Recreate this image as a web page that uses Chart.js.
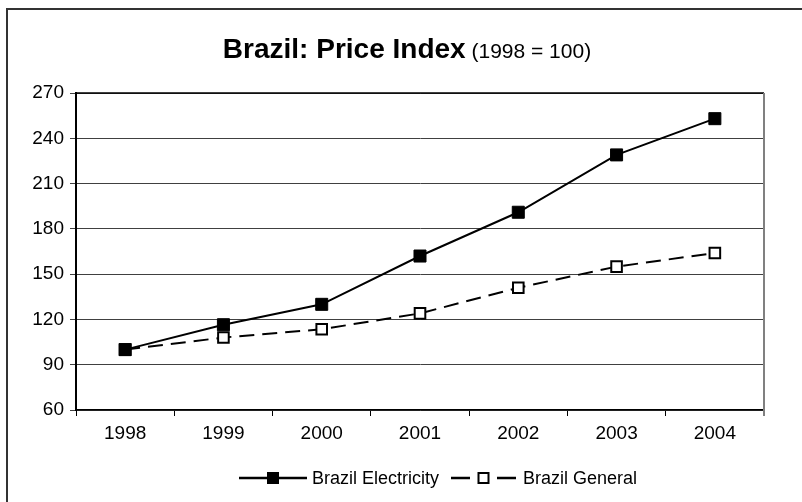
<!DOCTYPE html>
<html>
<head>
<meta charset="utf-8">
<title>Brazil: Price Index</title>
<script src="https://cdn.jsdelivr.net/npm/chart.js@4/dist/chart.umd.min.js"></script>
<style>
  html, body { margin: 0; padding: 0; background: #fff; }
  #wrap { width: 802px; height: 502px; }
</style>
</head>
<body>
<div id="wrap"><canvas id="priceChart" width="802" height="502"></canvas></div>
<script>
// Data
const years = ['1998', '1999', '2000', '2001', '2002', '2003', '2004'];
const electricity = [100, 116.5, 130, 162, 191, 229, 253];
const general = [100, 108, 113.5, 124, 141, 155, 164];
const yTicks = [60, 90, 120, 150, 180, 210, 240, 270];

const FONT = '"Liberation Sans", Arial, sans-serif';

// Frame, title and plot border
const framePlugin = {
    id: 'frame',
    beforeDraw(chart) {
        const c = chart.ctx;
        c.save();
        c.fillStyle = '#fff';
        c.fillRect(0, 0, chart.width, chart.height);
        c.strokeStyle = '#333';
        c.lineWidth = 2;
        c.beginPath();
        c.moveTo(7, chart.height);
        c.lineTo(7, 9);
        c.lineTo(chart.width, 9);
        c.stroke();
        c.restore();
    },
    afterDraw(chart) {
        const c = chart.ctx;
        const a = chart.chartArea;
        c.save();
        // title, two fonts
        const bold = 'Brazil: Price Index';
        const rest = ' (1998 = 100)';
        c.fillStyle = '#000';
        c.textBaseline = 'alphabetic';
        c.font = 'bold 28px ' + FONT;
        const w1 = c.measureText(bold).width;
        c.font = '21px ' + FONT;
        const w2 = c.measureText(rest).width;
        let x = 407 - (w1 + w2) / 2;
        c.font = 'bold 28px ' + FONT;
        c.fillText(bold, x, 58);
        c.font = '21px ' + FONT;
        c.fillText(rest, x + w1, 58);
        // plot border: top black, right grey
        c.lineWidth = 1.5;
        c.strokeStyle = '#000';
        c.beginPath();
        c.moveTo(a.left, a.top);
        c.lineTo(a.right, a.top);
        c.stroke();
        c.strokeStyle = '#808080';
        c.lineWidth = 2;
        c.beginPath();
        c.moveTo(a.right, a.top);
        c.lineTo(a.right, a.bottom + 6);
        c.stroke();
        c.restore();
    }
};

// Legend with line samples and markers
const legendPlugin = {
    id: 'lineLegend',
    afterDraw(chart) {
        const c = chart.ctx;
        const y = 478;
        const items = [
            { ds: chart.data.datasets[0], x0: 239, x1: 307, tx: 312 },
            { ds: chart.data.datasets[1], x0: 451, x1: 516, tx: 523 }
        ];
        c.save();
        items.forEach((it) => {
            const mx = (it.x0 + it.x1) / 2;
            c.strokeStyle = '#000';
            c.lineWidth = 2.5;
            c.beginPath();
            if (it.ds.borderDash) {
                // one dash either side of the marker
                c.moveTo(it.x0, y);
                c.lineTo(it.x0 + 19, y);
                c.moveTo(it.x1 - 19, y);
                c.lineTo(it.x1, y);
            } else {
                c.moveTo(it.x0, y);
                c.lineTo(it.x1, y);
            }
            c.stroke();
            c.fillStyle = it.ds.pointBackgroundColor;
            c.fillRect(mx - 5, y - 5, 10, 10);
            c.lineWidth = 2;
            c.strokeRect(mx - 5, y - 5, 10, 10);
            c.fillStyle = '#000';
            c.font = '18px ' + FONT;
            c.textBaseline = 'middle';
            c.fillText(it.ds.label, it.tx, y + 1);
        });
        c.restore();
    }
};

const ctx = document.getElementById('priceChart').getContext('2d');
const chart = new Chart(ctx, {
    type: 'line',
    data: {
        labels: years,
        datasets: [{
            label: 'Brazil Electricity',
            data: electricity,
            borderColor: '#000',
            borderWidth: 2,
            pointStyle: 'rect',
            pointRadius: 8.5,
            pointBackgroundColor: '#000',
            pointBorderColor: '#000',
            pointBorderWidth: 1,
            tension: 0,
            fill: false
        }, {
            label: 'Brazil General',
            data: general,
            borderColor: '#000',
            borderWidth: 2,
            borderDash: [15, 8],
            pointStyle: 'rect',
            pointRadius: 7.5,
            pointBackgroundColor: '#fff',
            pointBorderColor: '#000',
            pointBorderWidth: 2,
            tension: 0,
            fill: false
        }]
    },
    options: {
        responsive: false,
        animation: false,
        layout: { padding: { top: 93, right: 38, left: 0, bottom: 0 } },
        plugins: {
            legend: { display: false },
            title: { display: false },
            tooltip: { enabled: false }
        },
        scales: {
            x: {
                offset: true,
                grid: {
                    offset: true,
                    drawOnChartArea: false,
                    tickLength: 6,
                    color: '#000'
                },
                border: { color: '#000', width: 1.5 },
                ticks: {
                    color: '#000',
                    font: { family: FONT, size: 19 },
                    padding: 6
                },
                afterFit(scale) { scale.height = 92; }
            },
            y: {
                min: 60,
                max: 270,
                afterBuildTicks(scale) {
                    scale.ticks = yTicks.map((v) => ({ value: v }));
                },
                grid: {
                    color: '#404040',
                    lineWidth: 1,
                    tickLength: 6
                },
                border: { color: '#000', width: 2 },
                ticks: {
                    color: '#000',
                    font: { family: FONT, size: 19 },
                    padding: 6
                },
                afterFit(scale) { scale.width = 76; }
            }
        }
    },
    plugins: [framePlugin, legendPlugin]
});
</script>
</body>
</html>
